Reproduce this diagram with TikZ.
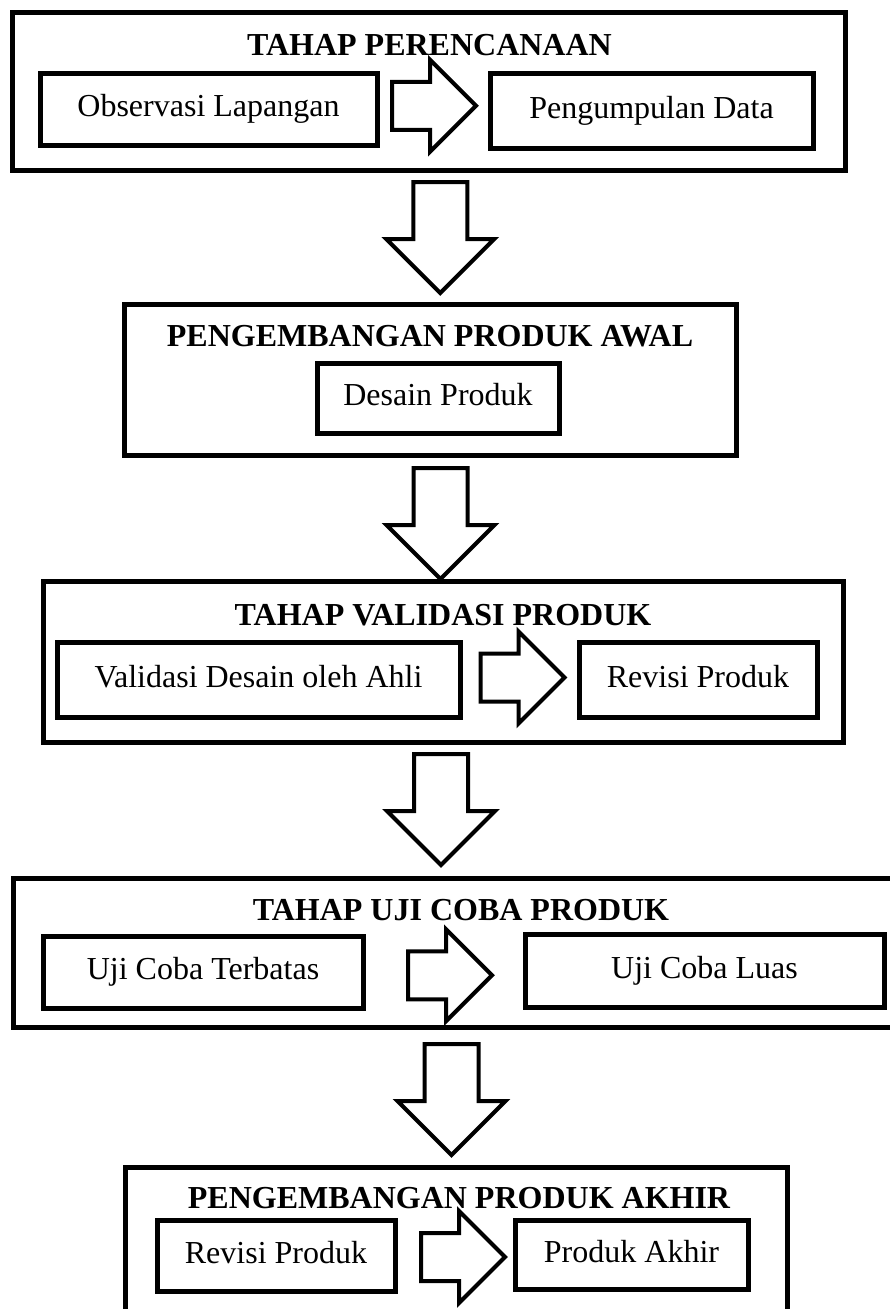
\documentclass[tikz,border=0pt]{standalone}
\usepackage{fontspec}
\setmainfont{Liberation Serif}
\usetikzlibrary{positioning}
\usetikzlibrary{calc}
\usetikzlibrary{shapes.arrows}
\tikzset{frame/.style = {draw, line width = 5, inner sep = 0}}
\tikzset{box/.style = {draw, line width = 5, inner sep = 0, text height = 22, text depth = 7,
                       font = \fontsize{32}{38}\selectfont}}
\tikzset{title/.style = {anchor = base, inner sep = 0, font = \fontsize{32}{38}\selectfont\bfseries}}
\tikzset{harrow/.style = {draw, line width = 4, single arrow, inner sep = 22, minimum width = 0,
                          single arrow head extend = 22, minimum height = 84, anchor = tail}}
\tikzset{varrow/.style = {draw, line width = 4, single arrow, inner sep = 25, minimum width = 0,
                          single arrow head extend = 27, minimum height = 111, rotate = -90, anchor = tail}}

\begin{document}
\begin{tikzpicture}[x = 1pt, y = -1pt]
    \clip (0, 0) rectangle (890, 1309);
    \fill [white] (0, 0) rectangle (890, 1309);

    \node [frame, minimum width = 833, minimum height = 158] (p1) at (428.5, 91) {};
    \node [title] (t1) at (429.5, 55) {TAHAP PERENCANAAN};
    \node [box, minimum width = 337, minimum height = 72] (obs) at (208.5, 109) {Observasi Lapangan};
    \node [box, minimum width = 323, minimum height = 75] (data) at (651.5, 110.5) {Pengumpulan Data};
    \node [harrow] (a1) at ($(obs.east)!0.5!(data.west) + (-43.5, -4)$) {};

    \node [frame, minimum width = 612, minimum height = 151] (p2) at (430, 379.5) {};
    \node [title] (t2) at (430, 346) {PENGEMBANGAN PRODUK AWAL};
    \node [box, minimum width = 242, minimum height = 70] (desain) at (438, 398) {Desain Produk};

    \node [frame, minimum width = 800, minimum height = 161] (p3) at (443, 661.5) {};
    \node [title] (t3) at (443, 625) {TAHAP VALIDASI PRODUK};
    \node [box, minimum width = 403, minimum height = 75] (ahli) at (258.5, 679.5) {Validasi Desain oleh Ahli};
    \node [box, minimum width = 238, minimum height = 75] (revisi) at (698, 679.5) {Revisi Produk};
    \node [harrow] (a3) at ($(ahli.east)!0.5!(revisi.west) + (-41, -2)$) {};

    \node [frame, minimum width = 892, minimum height = 149] (p4) at (459, 952.5) {};
    \node [title] (t4) at (461, 920) {TAHAP UJI COBA PRODUK};
    \node [box, minimum width = 320, minimum height = 72] (terbatas) at (203, 972) {Uji Coba Terbatas};
    \node [box, minimum width = 359, minimum height = 73] (luas) at (704.5, 970.5) {Uji Coba Luas};
    \node [harrow] (a4) at ($(terbatas.east)!0.5!(luas.west) + (-38, 4)$) {};

    \node [frame, minimum width = 662, minimum height = 173] (p5) at (456, 1253.5) {};
    \node [title] (t5) at (459, 1208) {PENGEMBANGAN PRODUK AKHIR};
    \node [box, minimum width = 238, minimum height = 71] (revisi2) at (276, 1255.5) {Revisi Produk};
    \node [box, minimum width = 233, minimum height = 69] (akhir) at (631.5, 1254.5) {Produk Akhir};
    \node [harrow] (a5) at ($(revisi2.east)!0.5!(akhir.west) + (-36, 2)$) {};

    \node [varrow] (d1) at ($(p1.south)!0.5!(p2.north) + (11, -57)$) {};
    \node [varrow] (d2) at ($(p2.south)!0.5!(p3.north) + (4, -52)$) {};
    \node [varrow] (d3) at ($(p3.south)!0.5!(p4.north) + (-10, -58)$) {};
    \node [varrow] (d4) at ($(p4.south)!0.5!(p5.north) + (-6, -55)$) {};
  \end{tikzpicture}
\end{document}
